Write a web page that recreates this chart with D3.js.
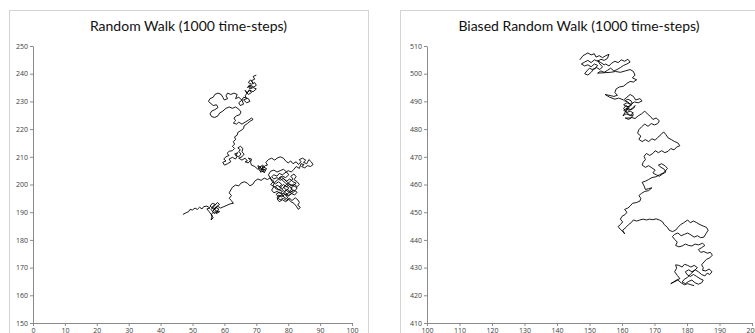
<!DOCTYPE html>
<html>
<head>
<meta charset="utf-8">
<script src="https://cdn.jsdelivr.net/npm/d3@7"></script>
<style>
  body { margin: 0; background: #fff; }
  svg { display: block; }
  .tick text { font-family: "Open Sans", sans-serif; font-size: 7px; fill: #3c3c3c; }
  .title { font-family: "Lato", sans-serif; font-size: 14px; fill: #111; }
</style>
</head>
<body>
<svg id="chart" width="755" height="333"></svg>
<script>
// values (traced path, approximate)
const walkXY = [
  [70,239.5],[69,239],[69.5,238],[68.5,237.5],[69,236.5],[68.2,237.8],[67.5,236.8],[68.5,236.2],[69.5,236.8],[70,235.8],
  [69.2,235.2],[68.2,235.8],[67.2,235],[68,236],[68.5,235],[67.5,235.5],[68,234.5],[69,235],[70,234.5],[69,233.5],
  [68,234],[67,233],[66.5,234],[67.5,232.5],[68.5,233.2],[67.8,234.2],[66.5,232],[67,231],[66,230.5],[67,229.5],
  [68,230],[67.5,231],[66,231.5],[65.5,230.5],[66,229],[65,228.5],[64.5,229.5],[65.5,230.5],[64.5,231.5],[63.5,231],
  [64,232.5],[63,233],[62,232.5],[61,233],[60.5,232],[61,231],[60,230.5],[59.5,231.5],[59,232.5],[58,233],
  [57,232.5],[56.5,231.5],[55.5,231],[55,230],[55.8,229.2],[56.5,228.5],[57.5,228.8],[58,227.8],[57,227],[56,226.5],
  [55.5,225.5],[56,224.5],[57,224.2],[58,224.8],[58.5,225.8],[59.5,226.5],[60.5,227.5],[61.5,228],[62.5,227.5],[63.5,228],
  [64.5,227.2],[65.2,226.2],[64.8,225.2],[63.8,224.8],[63,224],[63.5,223],[62.8,222.2],[63.8,221.8],[64.5,222.5],[65.5,221.8],
  [66.5,222.5],[67.5,223.2],[68.5,224],[69,223.5],[68,222.8],[67.2,222],[66.2,221.2],[66,220.2],[65.2,219.5],[64.2,218.8],
  [64,217.8],[63.2,217.2],[63.5,216.2],[62.8,215.5],[63.2,214.5],[62.5,213.8],[63.2,213],[62.5,212.2],[61.5,212],[60.8,211.2],
  [61.5,210.5],[60.5,210],[59.8,209.2],[60.5,208.5],[59.5,208],[60,207],[61,207.5],[62,208.2],[61.5,209.2],[62.5,209.8],
  [63.5,209.2],[64,210.2],[63.2,211],[64.2,211.5],[63.5,210.5],[64.5,210],[65.2,211],[64.5,212],[65,212.5],[64.2,213.2],
  [65,213.8],[65.8,213],[65.5,211.8],[66.2,211],[65.5,210],[64.5,209.5],[65.5,208.8],[66.5,209.5],[67.2,208.5],[66.5,208.2],
  [67.5,207.8],[68.2,208.8],[67.5,209.5],[68.5,209.2],[68.2,208],[68.5,207],[69.5,206.5],
  [70.5,205.5],[71.5,206.2],[70.5,206.8],[71,205],[72,205.8],[71.2,204.5],[72.5,204.8],[71.8,206.5],[72.8,206],[72,207],
  [71,206.2],[72.2,205.2],[73.2,205.8],[72.5,204.2],[71.5,205.5],[72.8,206.8],[73.5,207],
  [73,208],[73.8,209],[74.8,209.5],[75.8,208.8],[76.5,209.5],[77.5,210],[78.5,209.5],[79.2,208.5],[80,207.8],[80.8,208.5],
  [81.5,207.5],[82.5,208.2],[83.2,207.2],[84,208.2],[83.5,209],[84.5,209.5],[85.5,208.8],[84.8,208],[85.8,207.5],[86.5,209],
  [87.2,208.2],[87.8,207.2],[87,206.5],[86,206.8],[85.2,206],[84.2,206.5],[85,207.2],[84,207.5],[83.5,205.8],[82.5,206.5],
  [81.8,205.5],
  [81,204.5],[80,205],[79,204.2],[78.2,203.5],[77.2,204],[76.5,203],[75.5,203.5],[74.8,202.8],[75.5,202],[76.5,202.5],
  [77.5,201.5],[78.5,202.2],[79.5,201.2],[80.5,202],[81.5,201],[82.5,200.5],[81.5,199.5],[80.5,200.2],[79.5,199.2],[78.5,200],
  [77.5,199],[76.5,199.8],[75.8,198.8],[76.8,198],[77.8,198.5],[78.8,197.5],[79.8,198.2],[80.8,197.2],[81.8,198],[82.8,197.2],
  [82,196.2],[81,196.8],[80,195.8],[79,196.5],[78,195.5],[77,196.2],[76.5,195.2],[77.5,194.5],[78.5,195],[79.5,194.2],
  [80.5,195],[81.2,194.2],[82.2,195.2],[83,194.5],[83.5,193.5],[83,192.5],[83.8,191.8],[83.2,191],[82.5,192.2],[81.8,193.2],
  [80.8,193.8],[80,195],[79.2,196.2],[80.2,197],[81.2,198.5],[80.2,199.5],[79.2,200.5],[78.2,201.5],[77.2,202.5],[78.2,203],
  [79.2,202.5],[80.2,203.5],[79.5,204.5],[78.5,205.5],[77.5,205],[76.5,204.5],[75.5,205.2],[74.5,204.8],[73.8,203.5],
  [75,201],[76,200.2],[77,201],[78,200],[77.2,199.2],[78.2,198.5],[79.2,199.5],[80.2,198.8],[79.5,197.8],[80.5,197],
  [81.5,197.8],[80.8,198.8],[81.8,199.5],[82.8,198.8],[82.2,197.8],[81.2,196.8],[80.2,196],[79.2,197],[78.2,196.5],[77.2,197.2],
  [76.2,196.5],[77,195.5],[78,196.2],[79,195.2],[80,194.5],[79.2,193.8],[78.2,194.5],[77.2,193.8],[76.5,194.8],[77.5,195.8],
  [78.5,197],[79.5,198],[78.5,199],[79.5,200],[80.5,201],[81.5,202],[80.8,203],[81.8,203.8],[82.5,202.8],[81.8,201.8],
  [82.8,201],[83.5,200],[82.8,199.2],[81.8,200.2],[80.8,199.5],[79.8,200.8],[78.8,201.8],[77.8,202.8],[76.8,201.8],[75.8,200.8],
  [75.2,199.5],[76.2,199],[77.2,198],[78.2,197.5],[77.5,196.8],[76.5,197.5],[75.5,197],[74.8,198],[75.5,199.2],[74.5,200],
  [75.5,201.2],[74.5,202],
  [74.5,202.5],[73.5,201.8],[72.5,202.3],[71.5,201.5],[70.5,202],[69.5,201.2],[69,200.2],[68,199.5],[67.2,200.5],[66.2,201],
  [65.2,200.5],[64.5,199.5],[63.5,199.8],[62.5,199],[62,198],[61.5,197],[62.2,196],[61.5,195],[62.2,194.2],[62.8,193.2],
  [61.8,193],[60.8,192.5],[59.8,192],[58.8,191.5],
  [57.8,192.2],[57,191],[56.2,192],[57.2,192.8],[56.2,193.2],[55.5,192.2],[56.5,191.2],[57.5,190.5],[58.5,190.2],[57.5,189.5],
  [58.2,191.2],[57.2,191.8],[56.5,190.5],[57.5,192],[58.5,192.8],[57.8,193.5],[56.8,192.2],[55.8,191],[56.8,189.5],[57.8,190.2],
  [56.5,190],[55.8,189],[56.5,188],[55.8,187.2],[56.2,188.8],[55.2,190.2],[54.5,191.2],[55.5,191.5],[54.5,192.2],[53.5,192],
  [53,191.2],[52.2,191.8],[51.5,191],[50.8,191.5],[50,190.8],[49.2,191],[48.8,190.2],[48,189.8],[47,189.2]
];

const biasedXY = [
  [147,505],[148,506.5],[149.5,507.5],[150.5,506.8],[151.5,507.2],[152,506],[153,506.5],[154,505.8],[155,506.5],[156,507],
  [155.5,505.5],[154.5,504.8],[153.5,505.2],[152.5,504.5],[151.5,505],[150.5,504],[149.5,504.8],[148.5,504.2],[147.5,503.5],[148.5,502.8],
  [149.5,503.2],[150.5,502.5],[151.5,503.5],[152.5,503],[151.8,502],[150.8,501.5],[150,502],[149.2,501],[148.5,500],[149.5,499.5],
  [150.5,500.5],[151.2,501.5],[152.2,502.2],[153.2,501.5],[154,502.5],[153.2,503.5],[152.5,504.8],[153.5,504],[154.5,503.2],[155,503.5],
  [156,502.8],[156.8,503.8],[157.8,504.5],[158.8,504],[159.8,505],[160.8,504.5],[161.8,505.2],[162.5,504.2],[161.5,503.5],[160.5,503],
  [159.5,502.2],[158.5,501.5],[157.5,501],[156.5,502],[155.5,501.2],[154.5,500.5],[153.5,501],[152.5,500.2],
  [156.5,500.5],[158,500.8],[159.5,500.5],[161,501],[162.5,501.5],[163.5,500.8],[164,499.5],[163.2,498.5],[164.5,497.8],[163.5,497],
  [162.5,497.2],[161.5,496.5],[160.5,495.5],[159.2,495.2],[158.2,494.5],[157.8,493.2],[158.6,492.2],
  [157.5,491.8],[156,492.2],[154.8,492.5],[156.2,491.5],[157.8,490.8],[159,491.2],[160.5,490.5],[161.5,491.5],[162.5,492.5],[163.5,491.8],
  [164.2,490.5],[165.5,491],[166.2,490.2],[165,489.5],[163.8,489.8],[162.8,489],[161.5,489.5],[160.5,488.8],[161.5,488],[162.8,488.5],
  [161.8,489.8],[160.8,490.2],[161.8,490.8],[162.8,490.2],[163.2,489.2],[162.2,488.2],[161.2,487.2],[162.2,486.8],[163.2,487.5],[164,488.5],
  [163.8,487.8],[162.8,487],[161.5,487.5],[160.5,486.8],[161.5,486],[162.5,486.5],[163.5,485.8],[162.5,485],[161.2,485.5],[160.3,484.8],
  [161.2,486.5],[162.2,487.8],[161.2,488.5],[160.5,487.5],[161.5,486],[162.5,484.8],[163.5,485.2],[162.8,484],
  [161,484],[162,483.5],[163,484.2],[164,483.8],[165,484.8],[166,485.5],[167,486.5],[167.8,485.5],[168.8,484.5],[169.5,483.5],
  [170.5,484],[171.5,483],[171,482],[170,481.5],[169,482],[168,481],[167,481.8],[166,480.8],[165.2,479.8],[164.8,478.5],
  [165.8,477.5],[165.2,476.3],[166.2,475.5],[167.2,476.2],[168.2,475.5],[169.2,476.5],[170.2,476],[171,477],[172,478],[172.8,479],
  [173.5,478],[174.2,476.8],[175.2,476.2],[176.2,475.5],[177.2,475],[177.8,474],[176.8,473.5],[176,472.5],[175,473],[174.2,472],
  [173.2,471.5],[172.2,472.2],[171.2,471.5],[170.2,472.2],[169.5,471.2],[168.5,470.5],[167.5,471.2],[166.8,470.2],[167.2,469],[166.5,468],
  [166.2,467],[167.2,466.2],[168.2,466.8],[169.2,466],[170.2,465.2],[169.5,464.2],[170.5,463.5],[171.5,463],[172.5,463.8],[173.5,464.5],
  [173,465.5],[172,466.2],[171.2,467],[172.2,467.5],[173.2,466.8],[174,465.8],[172.8,464.2],[171.5,463.5],[170.5,462.8],[169.2,462.5],
  [168.2,461.8],[167.2,461.2],[166.2,460.8],[166.8,459.5],[167.2,458.2],[168.2,458.5],[169.2,458.8],[168.2,457.8],[167,457.5],[166,456.8],
  [165.2,456],[165.8,455],[165.5,454],[164.5,453.5],[163.2,453.2],[162.5,452.2],[161.8,451.5],[160.8,451],[161.5,450],[161,449.2],
  [160,448.5],[159.5,447.5],[160.2,446.5],[159.5,445.5],[158.8,444.8],[159.5,443.8],[160.3,443],[160.8,442.2],[160.2,443.5],[161.2,444.5],
  [162,445.5],[162.8,446.2],[163.5,447.2],[164.5,446.8],[165.5,447.2],[166.5,447.5],[167.5,447.2],[168.5,447.5],[169.5,447.3],[170.5,447.6],
  [171.5,447.2],[172.5,446.5],[173,445.5],[174,444.5],[174.5,443.5],[175.5,443],[176.5,443.5],[177.2,444.5],[178,445.5],[179,446.2],
  [180.2,447.2],[181,446.2],[182,446.8],[183,446.2],[184,445.5],[185,445],[186,444.5],[186.5,443.5],[185.8,442.2],[185.2,441],
  [184.2,440.8],[183.2,441.5],[182.2,441],[181.2,441.8],[180.2,442.5],[179.2,442],[178.2,441.5],[177.2,442.5],[176.2,442],[175.5,441.2],
  [176.2,440.2],[177,439.2],[176.5,438],[177.5,437.5],[178.5,437.8],[179.5,438.5],[180.5,438],[181.5,437.8],[182.5,438.5],[183.5,438.2],
  [184.8,438.8],[185.5,438],[184.5,437.2],[183.5,436.5],[184.2,435.5],[185.2,435.8],[186.2,435.2],[187.2,435.5],[187.8,434.5],[187,433.5],
  [186,433],[185.2,432],[184.5,431],[185,430],[184.8,429],[185.8,428.8],[186.8,429.5],[187.7,428.5],[187,427.5],[186.2,428],
  [185.5,427],[184.5,427.5],[183.5,428.5],[182.5,429.2],[181.5,428.5],[180.5,429.2],[179.5,428.5],[180,427.5],[181,426.8],[182,427.5],
  [183,426.8],[184,426],[185,425.5],[184.5,424.5],[183.5,424],[182.5,424.5],[181.5,425.5],[180.5,425],[179.5,424.2],[178.5,424.8],
  [179.2,425.8],[180.2,426.5],[181.2,427.8],[182.2,428.8],[183.2,430],[182.2,430.8],[181.2,430.2],[180.2,430.8],[179.2,431.2],[178.5,430.2],
  [177.5,430.8],[176.5,431],[176.8,429.8],[176.2,428.5],[177,427.2],[177.8,426],[176.8,425.5],[175.8,424.8],[175,424.2],[176,424.8],
  [177.2,425.5],[178.2,424.5],[179.2,423.8],[180.2,424.2],[181.2,423.8],[182.2,423.5]
];

const walkXTicks = [0, 10, 20, 30, 40, 50, 60, 70, 80, 90, 100];
const walkYTicks = [150, 160, 170, 180, 190, 200, 210, 220, 230, 240, 250];
const biasedXTicks = [100, 110, 120, 130, 140, 150, 160, 170, 180, 190, 200];
const biasedYTicks = [410, 420, 430, 440, 450, 460, 470, 480, 490, 500, 510];

const svg = d3.select('#chart');

/**
 * Draws one framed scatter-line panel.
 */
function drawPanel(p) {
  const g = svg.append('g');

  g.append('rect')
    .attr('x', p.frame[0] + 0.5)
    .attr('y', p.frame[1] + 0.5)
    .attr('width', p.frame[2])
    .attr('height', p.frame[3])
    .attr('fill', '#fff')
    .attr('stroke', '#d4d4d4');

  g.append('text')
    .attr('class', 'title')
    .attr('x', p.frame[0] + p.frame[2] / 2)
    .attr('y', 31)
    .attr('text-anchor', 'middle')
    .text(p.title);

  const x = d3.scaleLinear()
    .domain(d3.extent(p.xTicks))
    .range([p.left, p.right]);
  const y = d3.scaleLinear()
    .domain(d3.extent(p.yTicks))
    .range([p.bottom, p.top]);

  const xAxis = g.append('g')
    .attr('transform', 'translate(0,' + p.bottom + ')')
    .call(d3.axisBottom(x).tickValues(p.xTicks).tickSize(3).tickSizeOuter(0).tickPadding(2));
  const yAxis = g.append('g')
    .attr('transform', 'translate(' + p.left + ',0)')
    .call(d3.axisLeft(y).tickValues(p.yTicks).tickSize(3).tickSizeOuter(0).tickPadding(2));

  ;[xAxis, yAxis].forEach(a => {
    a.select('.domain').attr('stroke', '#8a8a8a')
    a.selectAll('.tick line').attr('stroke', '#8a8a8a')
  })

  const line = d3.line()
    .x(d => x(d[0]))
    .y(d => y(d[1]));

  g.append('path')
    .datum(p.data)
    .attr('d', line)
    .attr('fill', 'none')
    .attr('stroke', '#000')
    .attr('stroke-width', 0.9)
    .attr('stroke-linejoin', 'round');
}

drawPanel({
  frame: [9, 10, 359, 340],
  title: 'Random Walk (1000 time-steps)',
  left: 33, right: 352, top: 46, bottom: 323,
  xTicks: walkXTicks, yTicks: walkYTicks,
  data: walkXY
});

drawPanel({
  frame: [400, 10, 358, 340],
  title: 'Biased Random Walk (1000 time-steps)',
  left: 427, right: 752, top: 46, bottom: 323,
  xTicks: biasedXTicks, yTicks: biasedYTicks,
  data: biasedXY
});
</script>
</body>
</html>
